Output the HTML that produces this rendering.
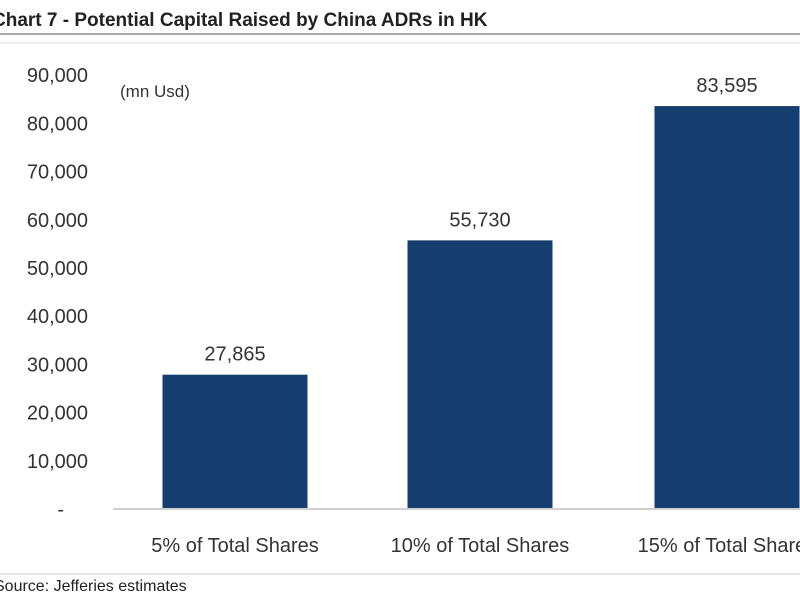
<!DOCTYPE html>
<html><head><meta charset="utf-8"><style>
body{margin:0;background:#fff;width:800px;height:600px;overflow:hidden;font-family:"Liberation Sans",sans-serif}
svg{display:block}
</style></head><body>
<svg width="800" height="600">
<text x="-8" y="26" font-size="19" font-weight="bold" fill="#222">Chart 7 - Potential Capital Raised by China ADRs in HK</text>
<line x1="0" y1="34" x2="800" y2="34" stroke="#aaa" stroke-width="2"/>
<line x1="0" y1="43" x2="800" y2="43" stroke="#ddd" stroke-width="1"/>
<text x="120" y="97" font-size="17" fill="#333">(mn Usd)</text>
<g id="yaxis"></g>
<g id="bars"></g>
<line x1="113" y1="509" x2="800" y2="509" stroke="#d0d0d0" stroke-width="2"/>
<line x1="0" y1="574" x2="800" y2="574" stroke="#ccc" stroke-width="1"/>
<text x="-6" y="591" font-size="16" fill="#222">Source: Jefferies estimates</text>
</svg>
<script>
const categories=["5% of Total Shares","10% of Total Shares","15% of Total Shares"];
const values=[27865,55730,83595];
const yTicks=[0,10000,20000,30000,40000,50000,60000,70000,80000,90000];
const y0=509,yScale=48.2/10000;
const y=v=>y0-v*yScale;
const centers=[235,480,727],bw=145;
const ns="http://www.w3.org/2000/svg";
const ya=document.getElementById('yaxis'),bg=document.getElementById('bars');
yTicks.forEach(t=>{
 const el=document.createElementNS(ns,'text');
 
 
 el.setAttribute('x', t===0?64:88);el.setAttribute('y',y(t)+7);
 el.setAttribute('text-anchor','end');el.setAttribute('font-size','20');el.setAttribute('fill','#333');
 el.textContent=t===0?'-':t.toLocaleString('en-US');ya.appendChild(el);
});
values.forEach((v,i)=>{
 const r=document.createElementNS(ns,'rect');
 
 
 r.setAttribute('x',centers[i]-bw/2);r.setAttribute('y',y(v));
 r.setAttribute('width',bw);r.setAttribute('height',y0-y(v));r.setAttribute('fill','#163d6f');
 bg.appendChild(r);
 const l=document.createElementNS(ns,'text');
 
 
 l.setAttribute('x',centers[i]);l.setAttribute('y',y(v)-14);l.setAttribute('text-anchor','middle');
 l.setAttribute('font-size','20');l.setAttribute('fill','#333');
 l.textContent=v.toLocaleString('en-US');bg.appendChild(l);
 const c=document.createElementNS(ns,'text');
 
 
 c.setAttribute('x',centers[i]);c.setAttribute('y',552);c.setAttribute('text-anchor','middle');
 c.setAttribute('font-size','20');c.setAttribute('fill','#333');
 c.textContent=categories[i];bg.appendChild(c);
});
</script>
</body></html>
